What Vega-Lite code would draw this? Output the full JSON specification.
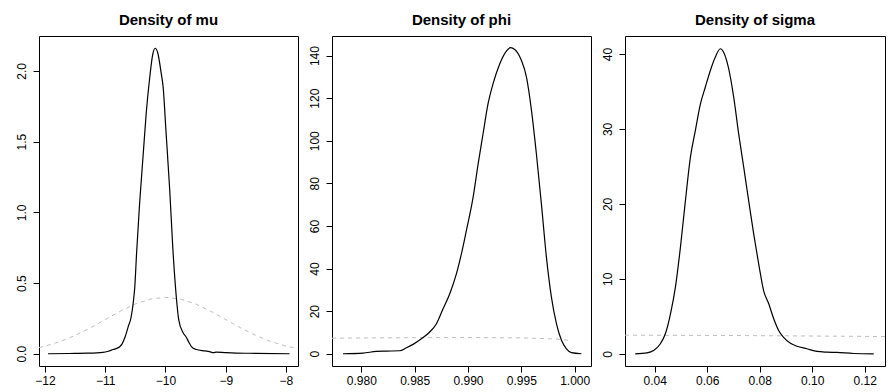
{
  "$schema": "https://vega.github.io/schema/vega-lite/v6.json",
  "background": "white",
  "padding": {"left": 14, "top": 12, "right": 5, "bottom": 5},
  "spacing": 34,
  "bounds": "flush",
  "config": {
    "view": {"stroke": "black", "strokeWidth": 1},
    "font": "Liberation Sans",
    "axis": {"domain": false, "grid": false, "labelFont": "Liberation Sans", "labelFontSize": 12, "labelColor": "black", "tickColor": "black", "tickSize": 6, "labelPadding": 3, "title": null},
    "axisY": {"labelAngle": -90, "labelAlign": "center", "labelBaseline": "bottom", "labelPadding": 5},
    "title": {"font": "Liberation Sans", "fontSize": 15, "fontWeight": "bold", "color": "black", "offset": 8, "frame": "group", "anchor": "middle"}
  },
  "datasets": {
    "mu_post": [
      {"x": -11.95, "y": 0}, {"x": -11.6, "y": 0.002}, {"x": -11.3, "y": 0.004}, {"x": -11.04, "y": 0.01}, {"x": -10.95, "y": 0.018}, {"x": -10.87, "y": 0.03}, {"x": -10.8, "y": 0.04}, {"x": -10.76, "y": 0.05}, {"x": -10.72, "y": 0.07}, {"x": -10.67, "y": 0.12}, {"x": -10.62, "y": 0.19}, {"x": -10.57, "y": 0.26}, {"x": -10.53, "y": 0.38}, {"x": -10.51, "y": 0.47}, {"x": -10.48, "y": 0.71}, {"x": -10.43, "y": 1.06}, {"x": -10.37, "y": 1.41}, {"x": -10.32, "y": 1.70}, {"x": -10.26, "y": 1.96}, {"x": -10.21, "y": 2.12}, {"x": -10.17, "y": 2.16}, {"x": -10.13, "y": 2.13}, {"x": -10.07, "y": 1.98}, {"x": -10.04, "y": 1.89}, {"x": -9.99, "y": 1.56}, {"x": -9.93, "y": 1.16}, {"x": -9.88, "y": 0.76}, {"x": -9.82, "y": 0.40}, {"x": -9.78, "y": 0.24}, {"x": -9.71, "y": 0.15}, {"x": -9.66, "y": 0.12}, {"x": -9.61, "y": 0.08}, {"x": -9.57, "y": 0.05}, {"x": -9.49, "y": 0.03}, {"x": -9.35, "y": 0.02}, {"x": -9.27, "y": 0.015}, {"x": -9.2, "y": 0.008}, {"x": -9.16, "y": 0.012}, {"x": -9.0, "y": 0.008}, {"x": -8.83, "y": 0.005}, {"x": -8.5, "y": 0.003}, {"x": -7.94, "y": 0}
    ],
    "mu_prior": [
      {"x": -12.1, "y": 0.044}, {"x": -12.0, "y": 0.054}, {"x": -11.75, "y": 0.0863}, {"x": -11.5, "y": 0.1295}, {"x": -11.25, "y": 0.1826}, {"x": -11.0, "y": 0.242}, {"x": -10.75, "y": 0.3011}, {"x": -10.5, "y": 0.3521}, {"x": -10.25, "y": 0.3867}, {"x": -10.0, "y": 0.3989}, {"x": -9.75, "y": 0.3867}, {"x": -9.5, "y": 0.3521}, {"x": -9.25, "y": 0.3011}, {"x": -9.0, "y": 0.242}, {"x": -8.75, "y": 0.1826}, {"x": -8.5, "y": 0.1295}, {"x": -8.25, "y": 0.0863}, {"x": -8.0, "y": 0.054}, {"x": -7.8, "y": 0.0355}
    ],
    "phi_post": [
      {"x": 0.97828, "y": 0}, {"x": 0.98016, "y": 0.3}, {"x": 0.98141, "y": 1.1}, {"x": 0.98235, "y": 1.25}, {"x": 0.9836, "y": 1.4}, {"x": 0.98422, "y": 2.8}, {"x": 0.98485, "y": 4.4}, {"x": 0.98563, "y": 7.0}, {"x": 0.98641, "y": 10.2}, {"x": 0.98704, "y": 14.1}, {"x": 0.98766, "y": 21.1}, {"x": 0.98829, "y": 28.2}, {"x": 0.98891, "y": 37.5}, {"x": 0.98938, "y": 46.9}, {"x": 0.98985, "y": 57.9}, {"x": 0.99048, "y": 73.5}, {"x": 0.99095, "y": 89.2}, {"x": 0.99141, "y": 103.3}, {"x": 0.99188, "y": 117.4}, {"x": 0.99235, "y": 126.8}, {"x": 0.99298, "y": 136.2}, {"x": 0.9936, "y": 142.1}, {"x": 0.99398, "y": 143.7}, {"x": 0.99438, "y": 142.9}, {"x": 0.99501, "y": 137.7}, {"x": 0.99548, "y": 129.9}, {"x": 0.99595, "y": 114.3}, {"x": 0.99641, "y": 93.9}, {"x": 0.99688, "y": 70.4}, {"x": 0.99735, "y": 45.4}, {"x": 0.99782, "y": 26.6}, {"x": 0.99829, "y": 14.1}, {"x": 0.99876, "y": 6.3}, {"x": 0.99923, "y": 2.3}, {"x": 0.9997, "y": 0.5}, {"x": 1.00063, "y": 0}
    ],
    "phi_prior": [
      {"x": 0.97725, "y": 7.3}, {"x": 0.98, "y": 7.41}, {"x": 0.985, "y": 7.56}, {"x": 0.99, "y": 7.61}, {"x": 0.995, "y": 7.45}, {"x": 0.998, "y": 6.99}, {"x": 0.999, "y": 6.59}, {"x": 0.9995, "y": 6.18}
    ],
    "sigma_post": [
      {"x": 0.0326, "y": 0}, {"x": 0.0371, "y": 0.13}, {"x": 0.0396, "y": 0.44}, {"x": 0.0421, "y": 1.3}, {"x": 0.0441, "y": 2.7}, {"x": 0.046, "y": 5.3}, {"x": 0.0479, "y": 8.9}, {"x": 0.0498, "y": 14.2}, {"x": 0.0517, "y": 20.4}, {"x": 0.0536, "y": 26.2}, {"x": 0.0555, "y": 29.8}, {"x": 0.0574, "y": 33.3}, {"x": 0.0593, "y": 35.6}, {"x": 0.0612, "y": 37.8}, {"x": 0.0631, "y": 39.6}, {"x": 0.065, "y": 40.7}, {"x": 0.0663, "y": 40.2}, {"x": 0.0682, "y": 38.0}, {"x": 0.0701, "y": 34.2}, {"x": 0.072, "y": 29.3}, {"x": 0.0739, "y": 24.9}, {"x": 0.0758, "y": 20.4}, {"x": 0.0777, "y": 16.0}, {"x": 0.0796, "y": 12.0}, {"x": 0.0815, "y": 8.4}, {"x": 0.0834, "y": 6.7}, {"x": 0.0853, "y": 4.7}, {"x": 0.0872, "y": 3.1}, {"x": 0.0891, "y": 2.2}, {"x": 0.0917, "y": 1.4}, {"x": 0.0942, "y": 1.0}, {"x": 0.098, "y": 0.67}, {"x": 0.1018, "y": 0.31}, {"x": 0.1056, "y": 0.22}, {"x": 0.1094, "y": 0.18}, {"x": 0.1158, "y": 0.04}, {"x": 0.1234, "y": 0}
    ],
    "sigma_prior": [
      {"x": 0.0287, "y": 2.48}, {"x": 0.05, "y": 2.46}, {"x": 0.075, "y": 2.43}, {"x": 0.1, "y": 2.37}, {"x": 0.1277, "y": 2.3}
    ]
  },
  "hconcat": [
    {
      "width": 259, "height": 330,
      "title": "Density of mu",
      "layer": [
        {"mark": {"type": "rule", "color": "#bebebe", "strokeWidth": 1}, "encoding": {"y": {"datum": 0, "type": "quantitative"}}},
        {"data": {"name": "mu_prior"}, "mark": {"type": "line", "color": "#bebebe", "strokeWidth": 1, "strokeDash": [4, 4], "clip": true},
         "encoding": {"x": {"field": "x", "type": "quantitative"}, "y": {"field": "y", "type": "quantitative"}}},
        {"data": {"name": "mu_post"}, "mark": {"type": "line", "color": "black", "strokeWidth": 1.2, "interpolate": "monotone", "clip": true},
         "encoding": {
           "x": {"field": "x", "type": "quantitative", "scale": {"domain": [-12.1, -7.8], "nice": false, "zero": false}, "axis": {"values": [-12, -11, -10, -9, -8], "format": "d"}},
           "y": {"field": "y", "type": "quantitative", "scale": {"domain": [-0.0865, 2.2465], "nice": false, "zero": false}, "axis": {"values": [0, 0.5, 1, 1.5, 2], "format": ".1f"}}
         }}
      ]
    },
    {
      "width": 259, "height": 330,
      "title": "Density of phi",
      "layer": [
        {"mark": {"type": "rule", "color": "#bebebe", "strokeWidth": 1}, "encoding": {"y": {"datum": 0, "type": "quantitative"}}},
        {"data": {"name": "phi_prior"}, "mark": {"type": "line", "color": "#bebebe", "strokeWidth": 1, "strokeDash": [4, 4], "clip": true},
         "encoding": {"x": {"field": "x", "type": "quantitative"}, "y": {"field": "y", "type": "quantitative"}}},
        {"data": {"name": "phi_post"}, "mark": {"type": "line", "color": "black", "strokeWidth": 1.2, "interpolate": "monotone", "clip": true},
         "encoding": {
           "x": {"field": "x", "type": "quantitative", "scale": {"domain": [0.97725, 1.00153], "nice": false, "zero": false}, "axis": {"values": [0.98, 0.985, 0.99, 0.995, 1.0], "format": ".3f"}},
           "y": {"field": "y", "type": "quantitative", "scale": {"domain": [-5.75, 149.2], "nice": false, "zero": false}, "axis": {"values": [0, 20, 40, 60, 80, 100, 120, 140], "format": "d"}}
         }}
      ]
    },
    {
      "width": 260, "height": 330,
      "title": "Density of sigma",
      "layer": [
        {"mark": {"type": "rule", "color": "#bebebe", "strokeWidth": 1}, "encoding": {"y": {"datum": 0, "type": "quantitative"}}},
        {"data": {"name": "sigma_prior"}, "mark": {"type": "line", "color": "#bebebe", "strokeWidth": 1, "strokeDash": [4, 4], "clip": true},
         "encoding": {"x": {"field": "x", "type": "quantitative"}, "y": {"field": "y", "type": "quantitative"}}},
        {"data": {"name": "sigma_post"}, "mark": {"type": "line", "color": "black", "strokeWidth": 1.2, "interpolate": "monotone", "clip": true},
         "encoding": {
           "x": {"field": "x", "type": "quantitative", "scale": {"domain": [0.0287, 0.1277], "nice": false, "zero": false}, "axis": {"values": [0.04, 0.06, 0.08, 0.1, 0.12], "format": ".2f"}},
           "y": {"field": "y", "type": "quantitative", "scale": {"domain": [-1.63, 42.4], "nice": false, "zero": false}, "axis": {"values": [0, 10, 20, 30, 40], "format": "d"}}
         }}
      ]
    }
  ]
}
